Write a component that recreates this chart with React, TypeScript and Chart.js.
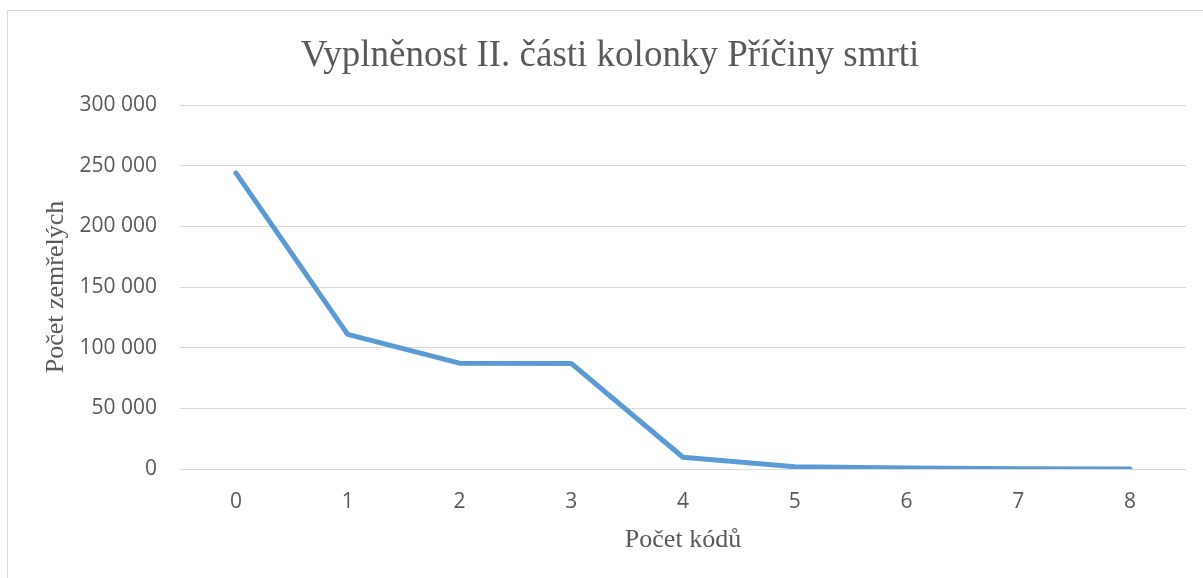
import React, { useEffect, useRef } from "react";
import { Chart, registerables } from "chart.js";

Chart.register(...registerables);

const categories = ["0", "1", "2", "3", "4", "5", "6", "7", "8"];
const deaths = [244000, 111000, 87200, 87000, 9700, 1900, 800, 300, 100];
const titleText = "Vyplněnost II. části kolonky Příčiny smrti";
const xTitle = "Počet kódů";
const yTitle = "Počet zemřelých";

const fmt = (v: number) => String(Math.round(v)).replace(/\B(?=(\d{3})+(?!\d))/g, " ");

export default function App() {
  const ref = useRef<HTMLCanvasElement | null>(null);
  useEffect(() => {
    if (!ref.current) return;
    const chart = new Chart(ref.current, {
      type: "line",
      data: {
        labels: categories,
        datasets: [
          {
            data: deaths,
            borderColor: "#5B9BD5",
            backgroundColor: "#5B9BD5",
            borderWidth: 5,
            pointRadius: 0,
            borderCapStyle: "round",
            borderJoinStyle: "round",
            tension: 0,
          },
        ],
      },
      options: {
        responsive: false,
        animation: false,
        layout: { padding: { left: 26, right: 22, top: 0, bottom: 0 } },
        plugins: {
          legend: { display: false },
          tooltip: { enabled: false },
          title: {
            display: true,
            text: titleText,
            color: "#595959",
            font: { family: "'Liberation Serif', serif", size: 37, weight: "normal" },
            padding: { top: 23.3, bottom: 26.3 },
          },
        },
        scales: {
          x: {
            offset: true,
            grid: { display: false, drawTicks: false },
            border: { display: false },
            ticks: {
              color: "#595959",
              font: { family: "'Open Sans', sans-serif", size: 21 },
              padding: 20.4,
            },
            title: {
              display: true,
              text: xTitle,
              color: "#595959",
              font: { family: "'Liberation Serif', serif", size: 26 },
              padding: { top: 0, bottom: 25.4 },
            },
            afterFit: (s: any) => {
              s.height = 112;
            },
          },
          y: {
            min: 0,
            max: 300000,
            grid: { color: "#d9d9d9", lineWidth: 1, drawTicks: false },
            border: { display: false },
            ticks: {
              stepSize: 50000,
              color: "#595959",
              font: { family: "'Open Sans', sans-serif", size: 21 },
              padding: 23,
              callback: (v: any) => fmt(Number(v)),
            },
            title: {
              display: true,
              text: yTitle,
              color: "#595959",
              font: { family: "'Liberation Serif', serif", size: 26 },
              padding: { top: 6.4, bottom: 0 },
            },
            afterFit: (s: any) => {
              s.width = 146;
            },
          },
        },
      },
    });
    return () => chart.destroy();
  }, []);
  return (
    <div
      style={{
        position: "absolute",
        left: 7,
        top: 10,
        width: 1230,
        height: 600,
        border: "1px solid #d9d9d9",
        boxSizing: "border-box",
        overflow: "hidden",
        background: "#fff",
      }}
    >
      <canvas ref={ref} width={1200} height={570} style={{ display: "block" }} />
    </div>
  );
}
